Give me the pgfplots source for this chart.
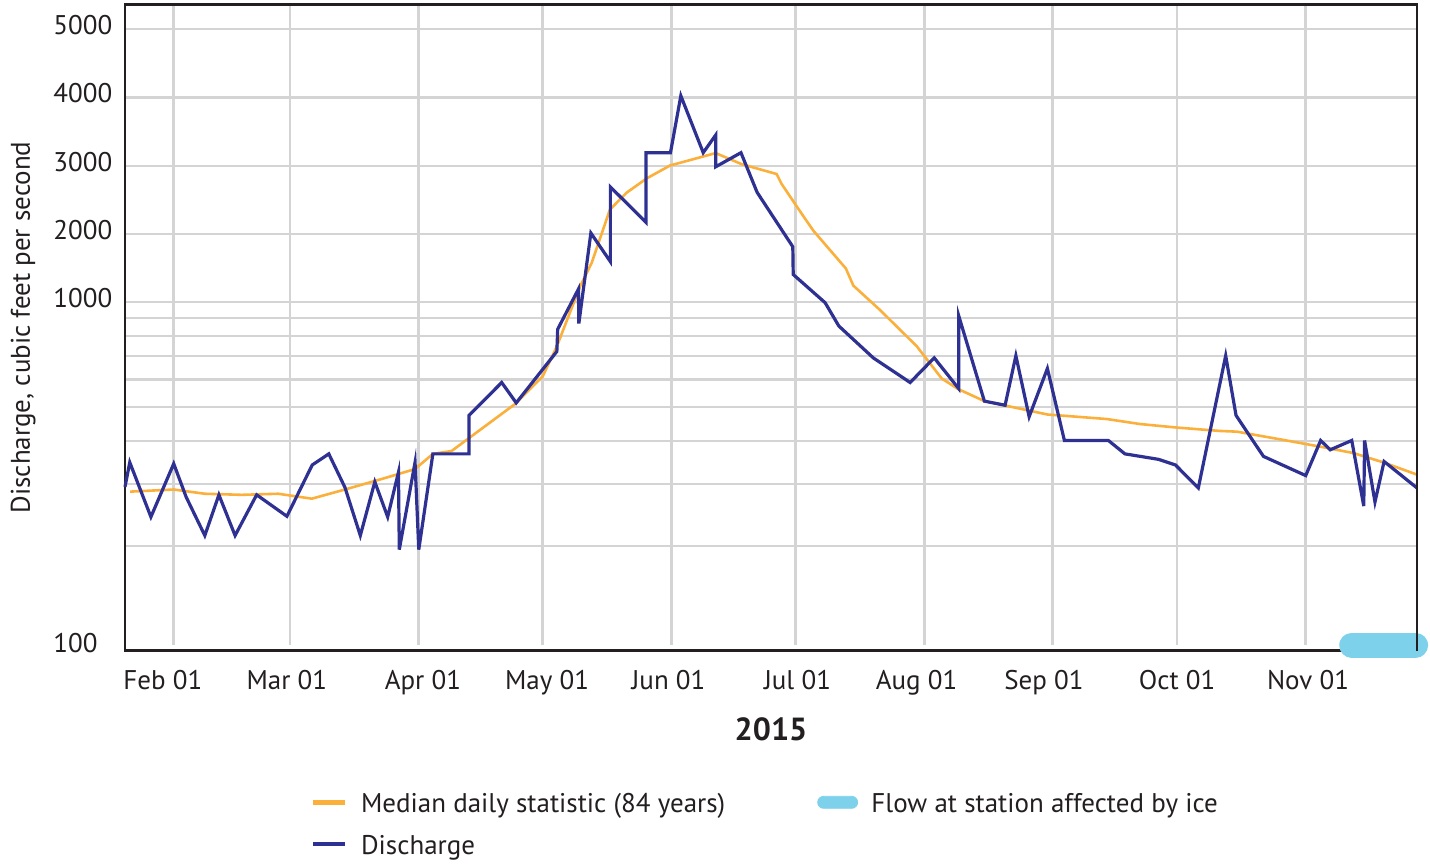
\documentclass[border=0pt]{standalone}
\usepackage{fontspec}
\setmainfont{PT Sans}
\usepackage{pgfplots}
\pgfplotsset{compat=1.18}
\definecolor{medcol}{RGB}{250,176,59}
\definecolor{discol}{RGB}{46,49,146}
\definecolor{icecol}{RGB}{126,209,234}
\definecolor{gridcol}{RGB}{212,212,212}
\definecolor{axcol}{RGB}{35,31,32}
\definecolor{txtcol}{RGB}{35,31,32}
\pgfplotsset{
  linelegend/.style={legend image code/.code={\draw[##1, line width=2.3pt, line cap=butt] (0pt,5pt) -- (16.15pt,5pt);}},
  icelegend/.style={legend image code/.code={\path (0pt,5pt) -- (20pt,5pt); \fill[icecol, rounded corners=3pt] (0pt,2pt) rectangle (20pt,8pt);}},
}
\begin{document}
\begin{tikzpicture}
\begin{axis}[
  scale only axis, width=646pt, height=323.2pt,
  xmin=19.25, xmax=330.84, ymin=2, ymax=3.8543,
  y filter/.expression={ifthenelse(y>1000, 3+(y-1000)*0.00019564, ln(y)/2.302585093)},
  clip=false,
  axis line style={draw=axcol, line width=1.4pt},
  major tick length=0pt,
  ymajorgrids, xmajorgrids=false,
  grid style={draw=gridcol, line width=1.1pt},
  ytick={2,2.30103,2.47712,2.60206,2.69897,2.77815,2.84510,2.90309,2.95424,3,3.19564,3.39128,3.58692,3.78256},
  yticklabels={\raisebox{3.7pt}{100},{},{},{},{},{},{},{},{},1000,2000,3000,4000,5000},
  yticklabel style={anchor=west, inner sep=0pt, xshift=-36pt, yshift=2pt},
  xtick={31,59,90,120,151,181,212,243,273,304},
  xticklabels={\hspace*{-10.9pt}Feb 01,\hspace*{-3pt}Mar 01,\hspace*{4.5pt}Apr 01,\hspace*{4.3pt}May 01,\hspace*{-2.8pt}Jun 01,\hspace*{1.8pt}Jul 01,\hspace*{-7.7pt}Aug 01,\hspace*{-8.8pt}Sep 01,Oct 01,\hspace*{2.3pt}Nov 01},
  xticklabel style={anchor=base, inner sep=0pt, yshift=-19.3pt},
  font=\color{txtcol}\fontsize{13.5}{16.2}\selectfont,
  xlabel={\fontsize{16}{19}\selectfont\bfseries 2015},
  xlabel style={at={(axis description cs:0.5,0)}, anchor=base, yshift=-44.65pt, inner sep=0pt},
  ylabel={Discharge, cubic feet per second},
  ylabel style={at={(axis description cs:-0.07353,0.5)}, anchor=base, inner sep=0pt},
  legend columns=2,
  legend style={at={(0.1438,-0.2191)}, anchor=north west, draw=none, fill=none,
    inner sep=0pt, outer sep=0pt, row sep=7.85pt,
    cells={anchor=base west},
    nodes={inner sep=0pt, text height=10pt, text depth=3pt},
    /tikz/every odd column/.append style={column sep=6.7pt},
    /tikz/every even column/.append style={column sep=46pt}},
]
\pgfplotsinvokeforeach{31,59,90,120,151,181,212,243,273,304}{
  \draw[gridcol, line width=1.3pt] ({axis cs:#1,2.5}|-{rel axis cs:0,0.0093}) -- ({axis cs:#1,2.5}|-{rel axis cs:0,0.9978});
}
\addplot[medcol, line width=1.3pt, linelegend]
coordinates {
(20.5,286) (31.0,290) (38.5,282) (47.4,280) (56.2,282) (64.3,273) (72.3,290)
(81.2,311) (89.2,332) (93.5,367) (98.0,374) (113.3,510) (120.0,613) (123.4,747)
(129.0,1230) (131.8,1575) (136.2,2358) (140.3,2608) (145.1,2815) (150.7,3003)
(157.9,3122) (161.7,3185) (168.0,3022) (176.4,2878) (177.6,2733) (182.8,2264)
(185.3,2044) (193.1,1493) (194.9,1242) (201.3,950) (210.2,747) (216.2,604)
(220.2,563) (226.5,520) (241.7,476) (256.0,462) (264.0,447) (272.6,437)
(283.3,427) (287.4,425) (297.8,404) (307.5,385) (315.5,369) (322.7,347) (330.84,320)
};
\addlegendentry{Median daily statistic (84 years)}
\addlegendimage{icelegend}
\addlegendentry{Flow at station affected by ice}
\addplot[icecol, line width=12.5pt, line cap=round, forget plot]
coordinates {(315.1,103.8) (330.5,103.8)};
\addplot[discol, line width=1.6pt, linelegend]
coordinates {
(19.25,295) (20.4,347) (25.5,242) (31.0,344) (34.0,276) (38.5,214) (41.9,280)
(45.8,214) (51.0,280) (58.3,243) (64.4,341) (68.4,367) (72.3,294) (76.0,214)
(79.5,305) (82.6,242) (85.2,325) (85.4,195) (89.2,347) (90.1,195) (93.5,367)
(102.2,367) (102.2,473) (110.1,588) (113.6,514) (123.4,722) (123.6,836)
(128.6,1191) (128.7,868) (131.6,2013) (136.3,1594) (136.3,2689) (144.9,2170)
(144.9,3191) (150.8,3191) (153.3,4025) (158.7,3191) (161.7,3449) (161.7,2984)
(167.8,3191) (171.7,2609) (180.3,1812) (180.4,1405) (188.1,996) (191.4,854)
(199.7,692) (208.6,588) (214.4,692) (220.3,565) (220.3,915) (226.5,520)
(231.5,506) (234.1,702) (237.3,469) (241.7,645) (245.8,401) (256.4,401)
(260.4,367) (268.5,354) (272.6,341) (278.1,293) (284.7,702) (287.2,473)
(293.8,361) (304.0,318) (307.6,401) (309.9,377) (315.1,401) (318.0,260)
(318.2,401) (320.7,267) (322.9,349) (330.84,293)
};
\addlegendentry{Discharge}
\draw[axcol, line width=1.4pt] (rel axis cs:1,0) -- (rel axis cs:1,1);
\end{axis}
\path (current axis.south west) ++(-62.5pt,-106.15pt) coordinate (BL);
\path (current axis.north east) ++(6.5pt,2.15pt) coordinate (TR);
\pgfresetboundingbox
\path[use as bounding box] (BL) rectangle (TR);
\end{tikzpicture}
\end{document}
